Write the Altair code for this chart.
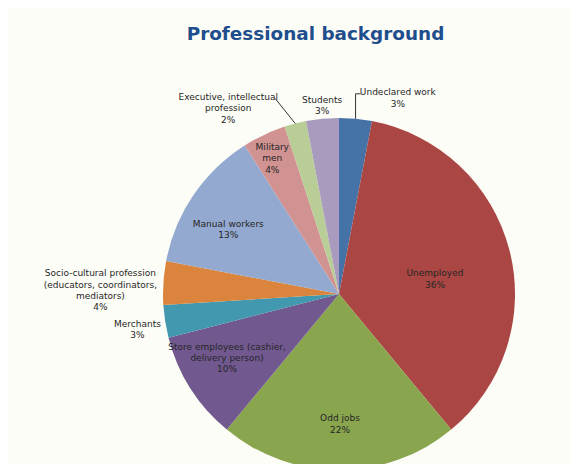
import math
import altair as alt
import pandas as pd

# ---- data ----
categories = [
    "Undeclared work",
    "Unemployed",
    "Odd jobs",
    "Store employees (cashier, delivery person)",
    "Merchants",
    "Socio-cultural profession (educators, coordinators, mediators)",
    "Manual workers",
    "Military men",
    "Executive, intellectual profession",
    "Students",
]
shares = [3, 36, 22, 10, 3, 4, 13, 4, 2, 3]
label_lines = [
    "Undeclared work",
    "Unemployed",
    "Odd jobs",
    "Store employees (cashier,\ndelivery person)",
    "Merchants",
    "Socio-cultural profession\n(educators, coordinators,\nmediators)",
    "Manual workers",
    "Military\nmen",
    "Executive, intellectual\nprofession",
    "Students",
]
colors = ["#4572A7", "#AA4643", "#89A54E", "#71588F", "#4198AF",
          "#DB843D", "#93A9CF", "#D19392", "#B9CD96", "#A99BBD"]

df = pd.DataFrame({
    "category": categories,
    "share": shares,
    "label": [f"{l}\n{s}%" for l, s in zip(label_lines, shares)],
})
df["end"] = df["share"].cumsum()
df["start"] = df["end"] - df["share"]
df["mid"] = (df["start"] + df["end"]) / 2

# ---- layout ----
W, H = 563, 416
PAD_TOP = 40
CX, CY, R = 331, 246, 176
LH = 11.3
theta_scale = alt.Scale(domain=[0, 100], range=[0, 2 * math.pi])
TEXT_COLOR = "#262626"

pie = alt.Chart(df).mark_arc(outerRadius=R).encode(
    theta=alt.Theta("start:Q", scale=theta_scale, stack=None),
    theta2="end:Q",
    color=alt.Color("category:N", scale=alt.Scale(domain=categories, range=colors), legend=None),
    x=alt.value(CX),
    y=alt.value(CY),
)

# label placement (radius, dx, dy of block centre) per category
placement = {
    "Undeclared work": (200, 40, 3),
    "Unemployed": (97, 2, 9),
    "Odd jobs": (129, 1, 1),
    "Store employees (cashier, delivery person)": (129, -3, -5),
    "Merchants": (200, -4, 4),
    "Socio-cultural profession (educators, coordinators, mediators)": (200, -39, 9),
    "Manual workers": (129, -4, 8),
    "Military men": (152, -2, 2),
    "Executive, intellectual profession": (200, -61, 8),
    "Students": (190, 1, 1),
}


def label_layer(name, r, dx, dy):
    sub = df[df["category"] == name]
    nlines = sub["label"].iloc[0].count("\n") + 1
    return alt.Chart(sub).mark_text(
        radius=r, dx=dx, dy=dy - (nlines - 1) * LH / 2, fontSize=9, font="DejaVu Sans",
        color=TEXT_COLOR, lineBreak="\n", lineHeight=LH, align="center", baseline="middle",
    ).encode(
        theta=alt.Theta("mid:Q", scale=theta_scale, stack=None),
        text="label:N",
        x=alt.value(CX),
        y=alt.value(CY),
    )


labels = [label_layer(n, *placement[n]) for n in categories]


def leader(name, x0, y0, x1, y1):
    sub = df[df["category"] == name]
    edge_x = f"({CX} + {R}*sin(2*PI*datum.mid/100))"
    edge_y = f"({CY} - {R}*cos(2*PI*datum.mid/100))"
    return alt.Chart(sub).transform_calculate(
        lx=f"{edge_x} + ({x0})",
        ly=f"{edge_y} + ({y0})",
        lx2=f"{edge_x} + ({x1})",
        ly2=f"{edge_y} + ({y1})",
    ).mark_rule(color="#333333", strokeWidth=1).encode(
        x=alt.X("lx:Q", scale=None, axis=None),
        y=alt.Y("ly:Q", scale=None, axis=None),
        x2="lx2:Q",
        y2="ly2:Q",
    )


leaders = [
    leader("Undeclared work", 0, 0, 0, -25),
    leader("Undeclared work", 0, -25, 5, -25),
    leader("Executive, intellectual profession", 0, 0, -20, -25),
]

chart = alt.layer(pie, *leaders, *labels).properties(
    width=W,
    height=H,
    padding={"top": PAD_TOP, "left": 0, "right": 0, "bottom": 0},
    autosize="none",
    background="#FDFDF7",
    title=alt.TitleParams(
        "Professional background", font="DejaVu Sans", fontSize=18.4, fontWeight="bold",
        color="#1F4E8C", anchor="middle", dx=26, offset=-10, baseline="alphabetic",
    ),
).configure_view(stroke=None)

chart.save("out.html", embed_options={"renderer": "svg", "actions": False})
